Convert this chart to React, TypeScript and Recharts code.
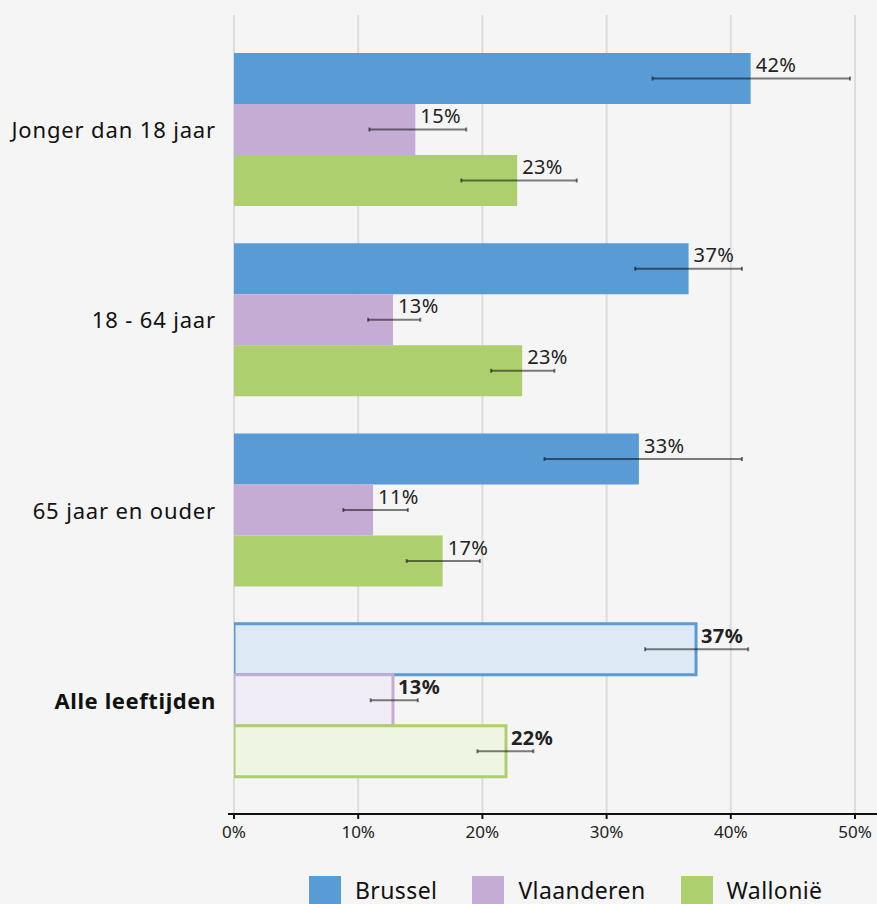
import React from 'react';
import { BarChart, Bar, XAxis, YAxis, ReferenceLine, ErrorBar, LabelList, Cell, Legend } from 'recharts';

const categories = ['Jonger dan 18 jaar', '18 - 64 jaar', '65 jaar en ouder', 'Alle leeftijden'];
const seriesNames = ['Brussel', 'Vlaanderen', 'Wallonië'];
const brussel = [41.6, 36.6, 32.6, 37.2];
const brusselLow = [33.7, 32.3, 25.0, 33.1];
const brusselHigh = [49.6, 40.9, 40.9, 41.4];
const vlaanderen = [14.6, 12.8, 11.2, 12.8];
const vlaanderenLow = [10.9, 10.8, 8.8, 11.0];
const vlaanderenHigh = [18.7, 15.0, 14.0, 14.8];
const wallonie = [22.8, 23.2, 16.8, 21.9];
const wallonieLow = [18.3, 20.7, 13.9, 19.6];
const wallonieHigh = [27.6, 25.8, 19.8, 24.1];
const xTicks = [0, 10, 20, 30, 40, 50];

const colors = ['#589bd5', '#c4acd4', '#aecf6e'];
const lightColors = ['#ddeaf6', '#f1edf6', '#eef5e2'];
const FONT = '"Noto Sans", sans-serif';

const data = categories.map((c, i) => ({
  name: c,
  b: brussel[i],
  bErr: [brussel[i] - brusselLow[i], brusselHigh[i] - brussel[i]],
  v: vlaanderen[i],
  vErr: [vlaanderen[i] - vlaanderenLow[i], vlaanderenHigh[i] - vlaanderen[i]],
  w: wallonie[i],
  wErr: [wallonie[i] - wallonieLow[i], wallonieHigh[i] - wallonie[i]],
}));

const renderLabel = (props: any) => {
  const vb = props.viewBox && props.viewBox.width !== undefined ? props.viewBox : props;
  const x = Number(vb.x) + Number(vb.width);
  const y = Number(vb.y);
  const bold = props.index === categories.length - 1;
  return (
    <text x={x + 5} y={y + 19} fontSize={20} letterSpacing={0.4} fill="#222" fontFamily={FONT} fontWeight={bold ? 700 : 400}>
      {Math.round(Number(props.value))}%
    </text>
  );
};

const YTick = (props: any) => {
  const { x, y, payload } = props;
  const bold = payload.value === 'Alle leeftijden';
  return (
    <text x={x} y={y} textAnchor="end" dominantBaseline="central" fontSize={22} letterSpacing={bold ? 0.6 : 0.85} fill="#111" fontFamily={FONT} fontWeight={bold ? 700 : 400}>
      {payload.value}
    </text>
  );
};

const LegendContent = () => (
  <div style={{ display: 'flex', alignItems: 'flex-start', fontFamily: FONT, fontSize: 23, letterSpacing: 0.4, lineHeight: '22px', color: '#111' }}>
    {seriesNames.map((n, i) => (
      <div key={n} style={{ display: 'flex', alignItems: 'flex-start', marginRight: 35 }}>
        <div style={{ width: 32, height: 28, background: colors[i], marginRight: 14 }} />
        <span style={{ marginTop: 3 }}>{n}</span>
      </div>
    ))}
  </div>
);

const keys = ['b', 'v', 'w'];

export default function App() {
  return (
    <div style={{ position: 'absolute', left: 0, top: 0, width: 877, height: 904, background: '#f5f5f5', overflow: 'hidden' }}>
      <BarChart
        width={877}
        height={904}
        data={data}
        layout="vertical"
        margin={{ top: 15, right: 0, bottom: 0, left: 0 }}
        barCategoryGap="10%"
        barGap={0}
      >
        {xTicks.map((t) => (
          <ReferenceLine key={`g${t}`} x={t} stroke="#dcdcdc" strokeWidth={2} zIndex={-100} />
        ))}
        <XAxis
          type="number"
          domain={[0, 50]}
          ticks={xTicks}
          tickFormatter={(v: number) => `${v}%`}
          padding={{ left: 6, right: 22 }}
          height={90}
          axisLine={{ stroke: '#111', strokeWidth: 2 }}
          tickLine={{ stroke: '#111', strokeWidth: 2 }}
          tickSize={5}
          tickMargin={7}
          tick={{ fontSize: 17, fill: '#222', fontFamily: FONT }}
          allowDataOverflow
        />
        <YAxis
          type="category"
          dataKey="name"
          width={228}
          axisLine={false}
          tickLine={false}
          tickSize={0}
          tickMargin={12}
          padding={{ top: 19, bottom: 19 }}
          tick={<YTick />}
        />
        {keys.map((k, si) => (
          <Bar key={k} dataKey={k} name={seriesNames[si]} fill={colors[si]} isAnimationActive={false}>
            {data.map((d, i) => (
              <Cell
                key={i}
                fill={i === categories.length - 1 ? lightColors[si] : colors[si]}
                stroke={i === categories.length - 1 ? colors[si] : 'none'}
                strokeWidth={i === categories.length - 1 ? 3 : 0}
              />
            ))}
            <ErrorBar dataKey={`${k}Err`} direction="x" stroke="rgba(0,0,0,0.5)" strokeWidth={2} width={2} isAnimationActive={false} />
            <LabelList dataKey={k} content={renderLabel} />
          </Bar>
        ))}
        <Legend
          layout="horizontal"
          verticalAlign="middle"
          align="center"
          content={<LegendContent />}
          wrapperStyle={{ position: 'absolute', top: 876, left: 309, width: 560, height: 28 }}
        />
      </BarChart>
    </div>
  );
}
